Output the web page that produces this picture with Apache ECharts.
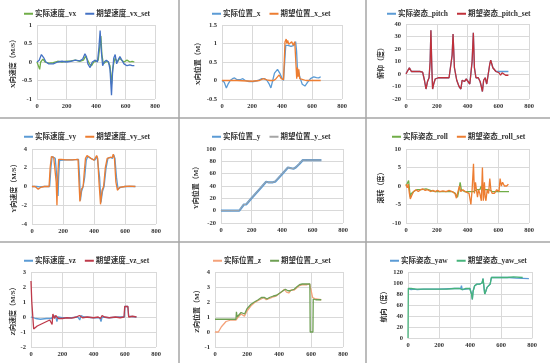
<!DOCTYPE html>
<html><head><meta charset="utf-8">
<script src="https://cdn.jsdelivr.net/npm/echarts@6/dist/echarts.min.js"></script>
<style>html,body{margin:0;padding:0;background:#fff}#c{width:550px;height:363px}</style>
</head><body><div id="c"></div>
<script>
// ---------- DATA (x = sample index, y = value) ----------
const xTicks = [0, 200, 400, 600, 800];

const vx_actual = [[0,0],[10,-0.05],[18,-0.2],[25,0],[40,0.08],[55,0],[80,-0.03],[110,-0.02],[140,0.02],[170,0],[200,0.02],[230,0.03],[260,0.05],[290,0.02],[315,0.05],[328,0.15],[340,0.08],[355,-0.05],[370,-0.1],[385,0],[400,0.02],[415,0.05],[425,0.4],[433,0.7],[440,0.2],[450,-0.05],[465,0],[480,0.02],[495,-0.1],[505,-0.6],[513,-0.2],[522,0],[530,0.1],[545,0],[560,0.1],[575,0.05],[590,0],[610,0.05],[630,0],[645,0.02],[660,0]];
const vx_set = [[0,0],[15,0.05],[30,0.2],[45,0.12],[60,0],[80,-0.05],[110,-0.05],[140,0],[170,0.02],[200,0],[230,0.02],[260,0.05],[290,0.03],[310,0.08],[325,0.22],[335,0.15],[345,-0.05],[360,-0.15],[375,0],[395,0.05],[410,0],[420,0.4],[428,0.85],[436,0.3],[445,-0.1],[455,0],[470,0.05],[485,0],[495,-0.2],[505,-0.9],[512,-0.3],[520,0.1],[530,0.2],[540,-0.05],[550,0.05],[562,0.15],[575,0.05],[590,-0.05],[610,-0.1],[630,-0.08],[645,-0.1],[660,-0.1]];

const x_actual = [[0,0],[15,-0.05],[29,-0.2],[40,-0.1],[55,0],[70,0.05],[84,0.07],[100,0.02],[120,0.02],[139,0.05],[155,0],[180,-0.03],[210,-0.03],[240,0],[265,0.05],[285,0.05],[300,0],[315,-0.1],[326,-0.2],[338,0],[350,0.2],[370,0.3],[385,0.2],[398,0.08],[410,0],[418,0.5],[425,0.95],[440,0.95],[460,0.92],[480,0.95],[491,1.05],[497,0.8],[503,0.3],[512,0.2],[522,0.05],[535,-0.1],[553,-0.15],[570,-0.05],[590,0.05],[612,0.1],[630,0.08],[645,0.07],[658,0.1]];
const x_set = [[0,0],[100,0],[200,-0.02],[250,0],[275,0.05],[300,0.02],[320,0],[345,0],[360,0.05],[381,0.15],[395,0.05],[410,0.02],[415,0.5],[420,1.05],[428,1.12],[432,1.0],[438,1.08],[445,0.98],[455,1.0],[465,1.05],[475,0.95],[485,1.05],[493,1.0],[498,0.05],[503,0.35],[508,0.1],[512,0.3],[518,0.05],[525,0],[560,0],[600,0],[630,0],[658,0]];

const pitch_actual = [[0,0.5],[12,0.5],[22,5],[35,2],[60,2],[90,2],[108,1.5],[120,-5],[130,-12],[140,-6],[150,-3],[157,10],[162,35],[168,5],[173,-12],[180,-8],[190,-4],[210,-3],[250,-3],[280,-3],[292,-3],[300,15],[306,32],[315,5],[330,-5],[345,-10],[357,-12],[365,-5],[380,-6],[392,-4],[405,-3],[415,-8],[422,-8],[430,10],[438,33],[445,5],[455,-3],[470,-3],[482,-6],[490,-10],[497,-14],[505,-5],[515,-3],[525,-8],[535,0],[545,8],[551,11],[565,5],[585,2],[605,2],[625,2],[645,2],[666,2]];
const pitch_set = [[0,0],[10,0],[22,5],[35,2],[60,2],[90,2],[108,1.5],[120,-5],[130,-12],[140,-6],[150,-3],[157,10],[162,35],[168,5],[173,-12],[180,-8],[190,-4],[210,-3],[250,-3],[280,-3],[292,-3],[300,15],[306,32],[315,5],[330,-5],[345,-10],[357,-12],[365,-5],[380,-6],[392,-4],[405,-3],[415,-8],[422,-8],[430,10],[438,33],[445,5],[455,-3],[470,-3],[482,-6],[490,-10],[497,-14],[505,-5],[515,-3],[525,-8],[535,0],[545,8],[551,11],[565,5],[585,2],[605,1],[615,-1],[625,1],[635,0],[648,-1],[666,-1]];

const vy_actual = [[0,0],[15,0],[22,0.2],[30,0],[38,-0.2],[50,-0.05],[80,0],[114,0],[122,2],[130,3.2],[140,3.1],[150,3.0],[160,1],[168,-1],[172,1],[178,2.8],[190,2.9],[220,2.85],[260,2.85],[300,2.9],[307,1],[312,-1.5],[320,-0.5],[330,0],[340,1],[350,2.8],[360,3.2],[380,3.0],[405,2.8],[420,3.2],[428,3.0],[436,1],[445,-1.7],[455,-0.5],[465,0],[478,2],[490,3.0],[505,3.1],[520,3.0],[527,3.4],[535,3.0],[545,1],[555,-0.3],[570,-0.1],[600,0],[630,0],[667,0]];
const vy_set = [[0,0],[20,0],[30,-0.1],[40,-0.3],[55,-0.1],[80,0],[110,0],[117,2],[125,3.2],[140,3.1],[150,3.0],[156,0.5],[161,-2],[166,1],[172,2.9],[190,2.9],[220,2.85],[260,2.85],[297,2.9],[303,0.5],[309,-1.6],[318,-0.3],[330,0],[337,1.5],[345,3.0],[355,3.3],[380,3.0],[400,2.8],[417,3.3],[424,3.0],[432,0.5],[442,-1.9],[452,-0.4],[462,0],[473,2],[485,3.0],[505,3.1],[518,3.1],[524,3.45],[532,3.0],[541,0.5],[551,-0.4],[565,-0.1],[600,0],[630,0.05],[667,0]];

const y_actual = [[0,0],[60,0],[120,0],[135,5],[150,10],[165,10],[175,12],[200,20],[250,34],[296,47],[310,46],[340,46],[355,47],[400,59],[439,70],[450,69],[475,68],[490,70],[515,76],[537,82],[560,82],[600,82],[658,82]];
const y_set = [[0,0],[60,0],[118,0],[133,5],[148,10],[163,10],[173,12],[198,20],[248,34],[294,47],[308,46],[338,46],[353,47],[398,59],[437,70],[448,69],[473,68],[488,70],[513,76],[535,82],[560,82],[600,82],[658,82]];

const roll_actual = [[0,0],[10,0],[17,1.5],[23,-1],[28,-3],[35,-2],[50,-1.5],[70,-1],[100,-1],[130,-0.8],[160,-1.2],[190,-1.5],[220,-1.5],[260,-1.5],[300,-1.5],[320,-2],[335,-3],[345,-1],[352,1],[360,-1],[380,-1.5],[400,-1.5],[420,-1.5],[440,-1.5],[460,-1],[480,-1],[490,0],[500,-1],[520,-1],[540,-1],[560,-1.5],[600,-1.5],[630,-1.5],[670,-1.5]];
const roll_set = [[0,0.5],[8,-0.5],[15,0.5],[22,-2],[28,-3.5],[38,-2.5],[50,-1.5],[65,-1],[80,-1.5],[95,-1],[110,-0.8],[125,-1.2],[140,-1],[160,-1.5],[175,-1.2],[190,-1.5],[205,-1.2],[220,-1.5],[240,-1.3],[260,-1.5],[280,-1.2],[300,-1.5],[318,-2],[328,-3.3],[338,-1.5],[348,0],[356,-1.5],[370,-1],[385,-1.5],[398,-1],[410,-2],[422,-5],[430,-1],[439,6],[445,-2],[452,1],[458,-1],[465,-3],[472,-1],[480,-2],[490,-4],[497,5],[503,-4],[510,1],[515,-3],[520,-4],[528,-1],[537,-2],[545,2],[552,-1],[560,-2],[575,-2],[590,-1],[605,-1.5],[612,2],[620,0],[628,1],[640,0],[655,0],[666,0.5]];

const vz_actual = [[0,0],[10,0],[30,-0.1],[60,-0.15],[100,-0.1],[130,-0.1],[145,0.1],[160,-0.05],[166,-0.3],[172,0],[200,-0.05],[260,-0.05],[300,0],[312,-0.2],[320,0.1],[340,0],[400,-0.05],[440,-0.05],[448,-0.3],[455,0],[500,-0.05],[560,0],[598,0],[600,0.7],[620,0.7],[625,0.05],[675,0]];
const vz_set = [[0,2.4],[5,1],[17,-0.8],[40,-0.6],[60,-0.5],[90,-0.35],[120,-0.2],[130,-0.3],[135,-0.5],[140,0.2],[145,0.15],[150,-0.1],[158,0.1],[165,0.05],[175,-0.1],[200,-0.1],[230,-0.05],[260,-0.08],[290,0],[310,0.1],[330,-0.05],[360,0],[400,-0.05],[430,0],[445,-0.1],[455,0.1],[470,0],[500,-0.05],[540,0],[570,-0.05],[595,0],[600,0.7],[610,0.6],[620,0.7],[625,0],[650,0.05],[675,0]];

const z_actual = [[0,0],[10,-0.02],[21,0],[40,0.35],[69,0.7],[100,0.8],[131,0.8],[145,1.0],[163,1.2],[175,1.15],[184,1.05],[200,1.4],[225,1.75],[246,1.95],[270,2.1],[288,2.2],[305,2.3],[320,2.15],[330,2.1],[345,2.25],[365,2.35],[382,2.4],[400,2.55],[420,2.7],[434,2.85],[447,2.65],[461,2.6],[475,2.8],[495,2.8],[512,2.95],[528,3.1],[545,3.15],[560,3.15],[575,3.15],[591,3.2],[600,2.8],[610,2.3],[616,2.2],[630,2.2],[664,2.15]];
const z_set = [[0,0.85],[60,0.85],[131,0.85],[134,1.35],[138,1.0],[150,1.1],[163,1.3],[175,1.25],[185,1.2],[200,1.55],[225,1.85],[246,2.0],[270,2.15],[290,2.3],[310,2.3],[325,2.2],[340,2.3],[365,2.4],[385,2.45],[405,2.6],[425,2.75],[440,2.85],[455,2.75],[470,2.75],[495,2.85],[510,3.0],[528,3.15],[545,3.2],[575,3.2],[593,3.2],[595,0],[612,0],[614,2.2],[630,2.15],[664,2.15]];

const yaw_actual = [[0,90],[20,88],[40,89],[60,88],[100,89],[200,89],[300,90],[340,90],[345,95],[350,88],[355,85],[360,90],[400,90],[405,92],[410,80],[415,70],[420,85],[430,95],[445,98],[462,98],[470,97],[478,100],[484,108],[488,98],[495,80],[502,85],[510,92],[520,95],[530,98],[538,110],[600,110],[650,110],[700,109],[780,108]];
const yaw_set = [[0,0],[2,90],[20,90],[50,89],[100,89],[150,89],[200,89],[250,89],[300,90],[333,90],[350,88],[370,90],[398,90],[405,92],[410,80],[415,70],[420,85],[430,95],[445,98],[462,98],[470,97],[478,100],[484,108],[488,98],[495,80],[502,85],[510,92],[520,95],[530,98],[538,110],[560,110],[600,110],[640,110],[680,111],[740,110]];

// ---------- LAYOUT ----------
const FONT = '"Liberation Serif","Times New Roman","Noto Sans CJK SC",serif';
const panels = [
  {g:[37,25,118,74],  y:[-1,1,0.5],   yn:'X向速度（M/S）', nc:13, lg:[24,10],
   s:[['实际速度_vx',vx_actual,'#70AD47'],['期望速度_vx_set',vx_set,'#4472C4']]},
  {g:[222,25,120,74], y:[-0.5,1.5,0.5], yn:'X向位置（M）', nc:198, lg:[212,10],
   s:[['实际位置_x',x_actual,'#5B9BD5'],['期望位置_x_set',x_set,'#ED7D31']]},
  {g:[406,24,123,75], y:[-20,40,10], yn:'俯仰（度）', nc:381, lg:[387,10],
   s:[['实际姿态_pitch',pitch_actual,'#5B9BD5'],['期望姿态_pitch_set',pitch_set,'#C0303A']]},
  {g:[32,149,124,75], y:[-4,4,2], yn:'Y向速度（M/S）', nc:14, lg:[24,133],
   s:[['实际速度_vy',vy_actual,'#5B9BD5'],['期望速度_vy_set',vy_set,'#ED7D31']]},
  {g:[221,149,122,74], y:[-20,100,20], yn:'Y向位置（M）', nc:196, lg:[212,133],
   s:[['实际位置_y',y_actual,'#5B9BD5',2.2],['期望位置_y_set',y_set,'#A5A5A5',1]]},
  {g:[406,149,123,74], y:[-10,10,5], yn:'滚转（度）', nc:381, lg:[392,133],
   s:[['实际姿态_roll',roll_actual,'#70AD47'],['期望姿态_roll_set',roll_set,'#ED7D31']]},
  {g:[31,272,125,75], y:[-2,3,1], yn:'Z向速度（M/S）', nc:14, lg:[24,257],
   s:[['实际速度_vz',vz_actual,'#5B9BD5'],['期望速度_vz_set',vz_set,'#BE3A4A']]},
  {g:[215,272,128,75], y:[-1,4,1], yn:'Z向位置（M）', nc:198, lg:[213,257],
   s:[['实际位置_z',z_actual,'#F4A27A'],['期望位置_z_set',z_set,'#6E9F53']]},
  {g:[408,272,124,66], y:[0,120,20], yn:'航向（度）', nc:384, lg:[390,257],
   s:[['实际姿态_yaw',yaw_actual,'#5B9BD5'],['期望姿态_yaw_set',yaw_set,'#46B37B']]}
];

const grid=[], xAxis=[], yAxis=[], series=[], legend=[];
panels.forEach((p,i)=>{
  grid.push({left:p.g[0], top:p.g[1], width:p.g[2], height:p.g[3], containLabel:false});
  xAxis.push({type:'value', gridIndex:i, min:xTicks[0], max:xTicks[xTicks.length-1], interval:xTicks[1]-xTicks[0],
    axisLine:{show:true,onZero:true,lineStyle:{color:'#d9d9d9',width:1}}, axisTick:{show:false},
    axisLabel:{margin:4,fontSize:6.5,fontWeight:'bold',color:'#333',fontFamily:FONT},
    splitLine:{show:true,lineStyle:{color:'#d9d9d9',width:1}}});
  yAxis.push({type:'value', gridIndex:i, min:p.y[0], max:p.y[1], interval:p.y[2],
    name:p.yn, nameLocation:'middle', nameRotate:90, nameGap:(p.g[0]-p.nc)-3.5,
    nameTextStyle:{fontSize:7,fontWeight:'bold',color:'#333',fontFamily:FONT},
    axisLine:{show:false}, axisTick:{show:false},
    axisLabel:{margin:5,fontSize:6.5,fontWeight:'bold',color:'#333',fontFamily:FONT},
    splitLine:{show:true,lineStyle:{color:'#d9d9d9',width:1}}});
  p.s.forEach(s=>{
    series.push({type:'line', name:s[0], data:s[1], xAxisIndex:i, yAxisIndex:i,
      showSymbol:false, symbol:'none', color:s[2], lineStyle:{width:s[3]||1.3,color:s[2]}, animation:false});
  });
  legend.push({left:p.lg[0], top:p.lg[1], padding:0, itemGap:9, itemWidth:9, itemHeight:2, icon:'rect',
    data:p.s.map(s=>s[0]), textStyle:{fontSize:7.5,fontWeight:'bold',color:'#333',fontFamily:FONT,padding:[0,0,0,-3]}});
});

const lineStyle = {stroke:'#a6a6a6', lineWidth:1.5};
const graphic = [
  {type:'line', shape:{x1:179,y1:0,x2:179,y2:363}, style:lineStyle, silent:true},
  {type:'line', shape:{x1:366,y1:0,x2:366,y2:363}, style:lineStyle, silent:true},
  {type:'line', shape:{x1:0,y1:118,x2:550,y2:118}, style:lineStyle, silent:true},
  {type:'line', shape:{x1:0,y1:242,x2:550,y2:242}, style:lineStyle, silent:true}
];

const chart = echarts.init(document.getElementById('c'), null, {renderer:'canvas'});
chart.setOption({backgroundColor:'#fff', animation:false, grid, xAxis, yAxis, series, legend, graphic});
</script></body></html>
